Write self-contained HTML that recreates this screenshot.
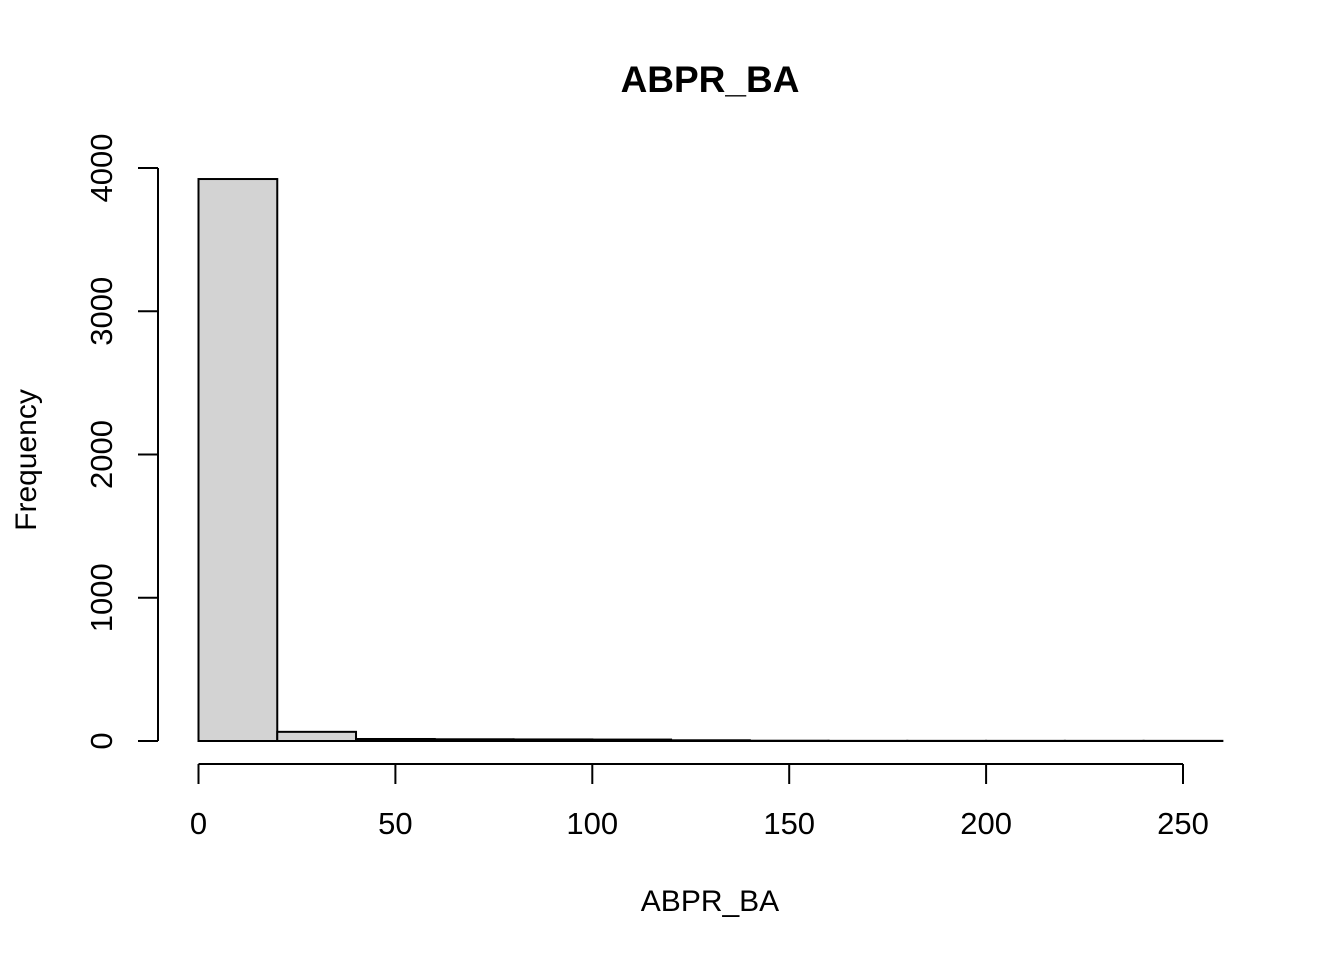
<!DOCTYPE html>
<html><head><meta charset="utf-8"><style>
body{margin:0;background:#fff;}
svg text{font-family:"Liberation Sans",Arial,sans-serif;fill:#000;}
</style></head><body>
<svg width="1344" height="960">
<text x="710" y="92" text-anchor="middle" font-size="37" font-weight="bold">ABPR_BA</text>
<text x="710" y="911" text-anchor="middle" font-size="30">ABPR_BA</text>
<text transform="translate(36,460) rotate(-90)" text-anchor="middle" font-size="30">Frequency</text>
<g id="bars"></g><g id="xaxis"></g><g id="yaxis"></g>
</svg>
<script>
const binEdges=[0,20,40,60,80,100,120,140,160,180,200,220,240,260];
const counts=[3923,64,14,12,11,10,5,2,1,1,1,1,1];
const xTicks=[0,50,100,150,200,250];
const yTicks=[0,1000,2000,3000,4000];
const NS="http://www.w3.org/2000/svg";
const X=v=>198.5+v*(1183-198.5)/250;
const Y=v=>741-v*(741-168)/4000;
function mk(t,a,p){const e=document.createElementNS(NS,t);for(const k in a)e.setAttribute(k,a[k]);p.appendChild(e);return e;}
const bars=document.getElementById('bars');
counts.forEach((c,i)=>{
 const r=mk('rect',{x:X(binEdges[i]),y:Y(c),width:X(binEdges[i+1])-X(binEdges[i]),height:Y(0)-Y(c),fill:'#d3d3d3',stroke:'#000','stroke-width':2},bars);
 
 
});
const xa=document.getElementById('xaxis');
mk('line',{x1:X(xTicks[0]),x2:X(xTicks[xTicks.length-1]),y1:764,y2:764,stroke:'#000','stroke-width':2},xa);
xTicks.forEach(t=>{
 mk('line',{x1:X(t),x2:X(t),y1:764,y2:784,stroke:'#000','stroke-width':2},xa);
 const tx=mk('text',{x:X(t),y:834,'text-anchor':'middle','font-size':31},xa);tx.textContent=t;
 
 
});
const ya=document.getElementById('yaxis');
mk('line',{x1:158,x2:158,y1:Y(yTicks[0]),y2:Y(yTicks[yTicks.length-1]),stroke:'#000','stroke-width':2},ya);
yTicks.forEach(t=>{
 mk('line',{x1:138,x2:158,y1:Y(t),y2:Y(t),stroke:'#000','stroke-width':2},ya);
 const tx=mk('text',{transform:`translate(112,${Y(t)}) rotate(-90)`,'text-anchor':'middle','font-size':31},ya);tx.textContent=t;
 
 
});
</script>
</body></html>
